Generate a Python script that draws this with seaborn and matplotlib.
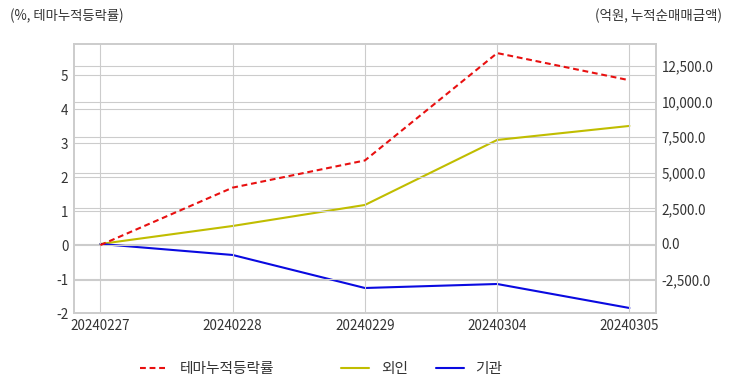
import matplotlib
matplotlib.use('Agg')
import matplotlib.pyplot as plt
import matplotlib.ticker as mticker
import pandas as pd
import seaborn as sns

dates = ['20240227', '20240228', '20240229', '20240304', '20240305']
theme_rate = [0.0, 1.69, 2.49, 5.65, 4.85]
foreign_amt = [0.0, 1264.0, 2739.0, 7303.0, 8287.0]
inst_amt = [0.0, -772.0, -3090.0, -2809.0, -4494.0]

df = pd.DataFrame({'date': dates, 'theme': theme_rate,
                   'foreign': foreign_amt, 'inst': inst_amt})

sns.set_theme(style='whitegrid')
plt.rcParams['font.family'] = ['Noto Sans CJK KR', 'DejaVu Sans']
plt.rcParams['axes.unicode_minus'] = False

grid_c = '#cccccc'
text_c = '#333333'

fig = plt.figure(figsize=(7.32, 3.92), dpi=100)
ax = fig.add_axes([0.101, 0.2015, 0.795, 0.6865])
ax2 = ax.twinx()

sns.lineplot(data=df, x='date', y='theme', ax=ax, color='#e81010',
             linewidth=1.5, linestyle=(0, (2.8, 1.8)), label='테마누적등락률', legend=False)
sns.lineplot(data=df, x='date', y='foreign', ax=ax2, color='#c0bd00',
             linewidth=1.5, label='외인', legend=False)
sns.lineplot(data=df, x='date', y='inst', ax=ax2, color='#0a0ae0',
             linewidth=1.5, label='기관', legend=False)

ax.set_xlim(-0.2, 4.2)
ax.set_ylim(-2, 5.92)
ax.yaxis.set_major_locator(mticker.MultipleLocator(1))
ax2.set_ylim(-4846, 14045)
ax2.yaxis.set_major_locator(mticker.MultipleLocator(2500))
ax2.yaxis.set_major_formatter(mticker.FuncFormatter(lambda v, p: f'{v:,.1f}'))

for a in (ax, ax2):
    a.set_xlabel('')
    a.set_ylabel('')
    a.grid(True, color=grid_c, linewidth=0.8)
    a.tick_params(length=0, labelsize=9.7, labelcolor=text_c, pad=4)
    for s in a.spines.values():
        s.set_color(grid_c)
        s.set_linewidth(1.2)
ax2.grid(axis='x', visible=False)
ax.set_axisbelow(True)
ax2.set_axisbelow(True)
ax.set_zorder(ax2.get_zorder() + 1)
ax.patch.set_visible(False)

fig.text(10 / 732, 1 - 16 / 392, '(%, 테마누적등락률)', fontsize=9.6, color=text_c,
         ha='left', va='center')
fig.text(722 / 732, 1 - 16 / 392, '(억원, 누적순매매금액)', fontsize=9.7, color=text_c,
         ha='right', va='center')

lines_l = ax.get_lines()[:1]
lines_r = ax2.get_lines()[:2]
leg_kw = dict(loc='center left', frameon=False, fontsize=10.6, handlelength=1.9,
              borderpad=0, borderaxespad=0, handletextpad=0.8, labelcolor=text_c)
leg1 = fig.legend(lines_l, ['테마누적등락률'], bbox_to_anchor=(140 / 732, 1 - 369 / 392),
                  **leg_kw)
fig.legend(lines_r, ['외인', '기관'], bbox_to_anchor=(341 / 732, 1 - 369 / 392),
           ncol=2, columnspacing=1.9, **leg_kw)

fig.savefig('out.png', dpi=100)
